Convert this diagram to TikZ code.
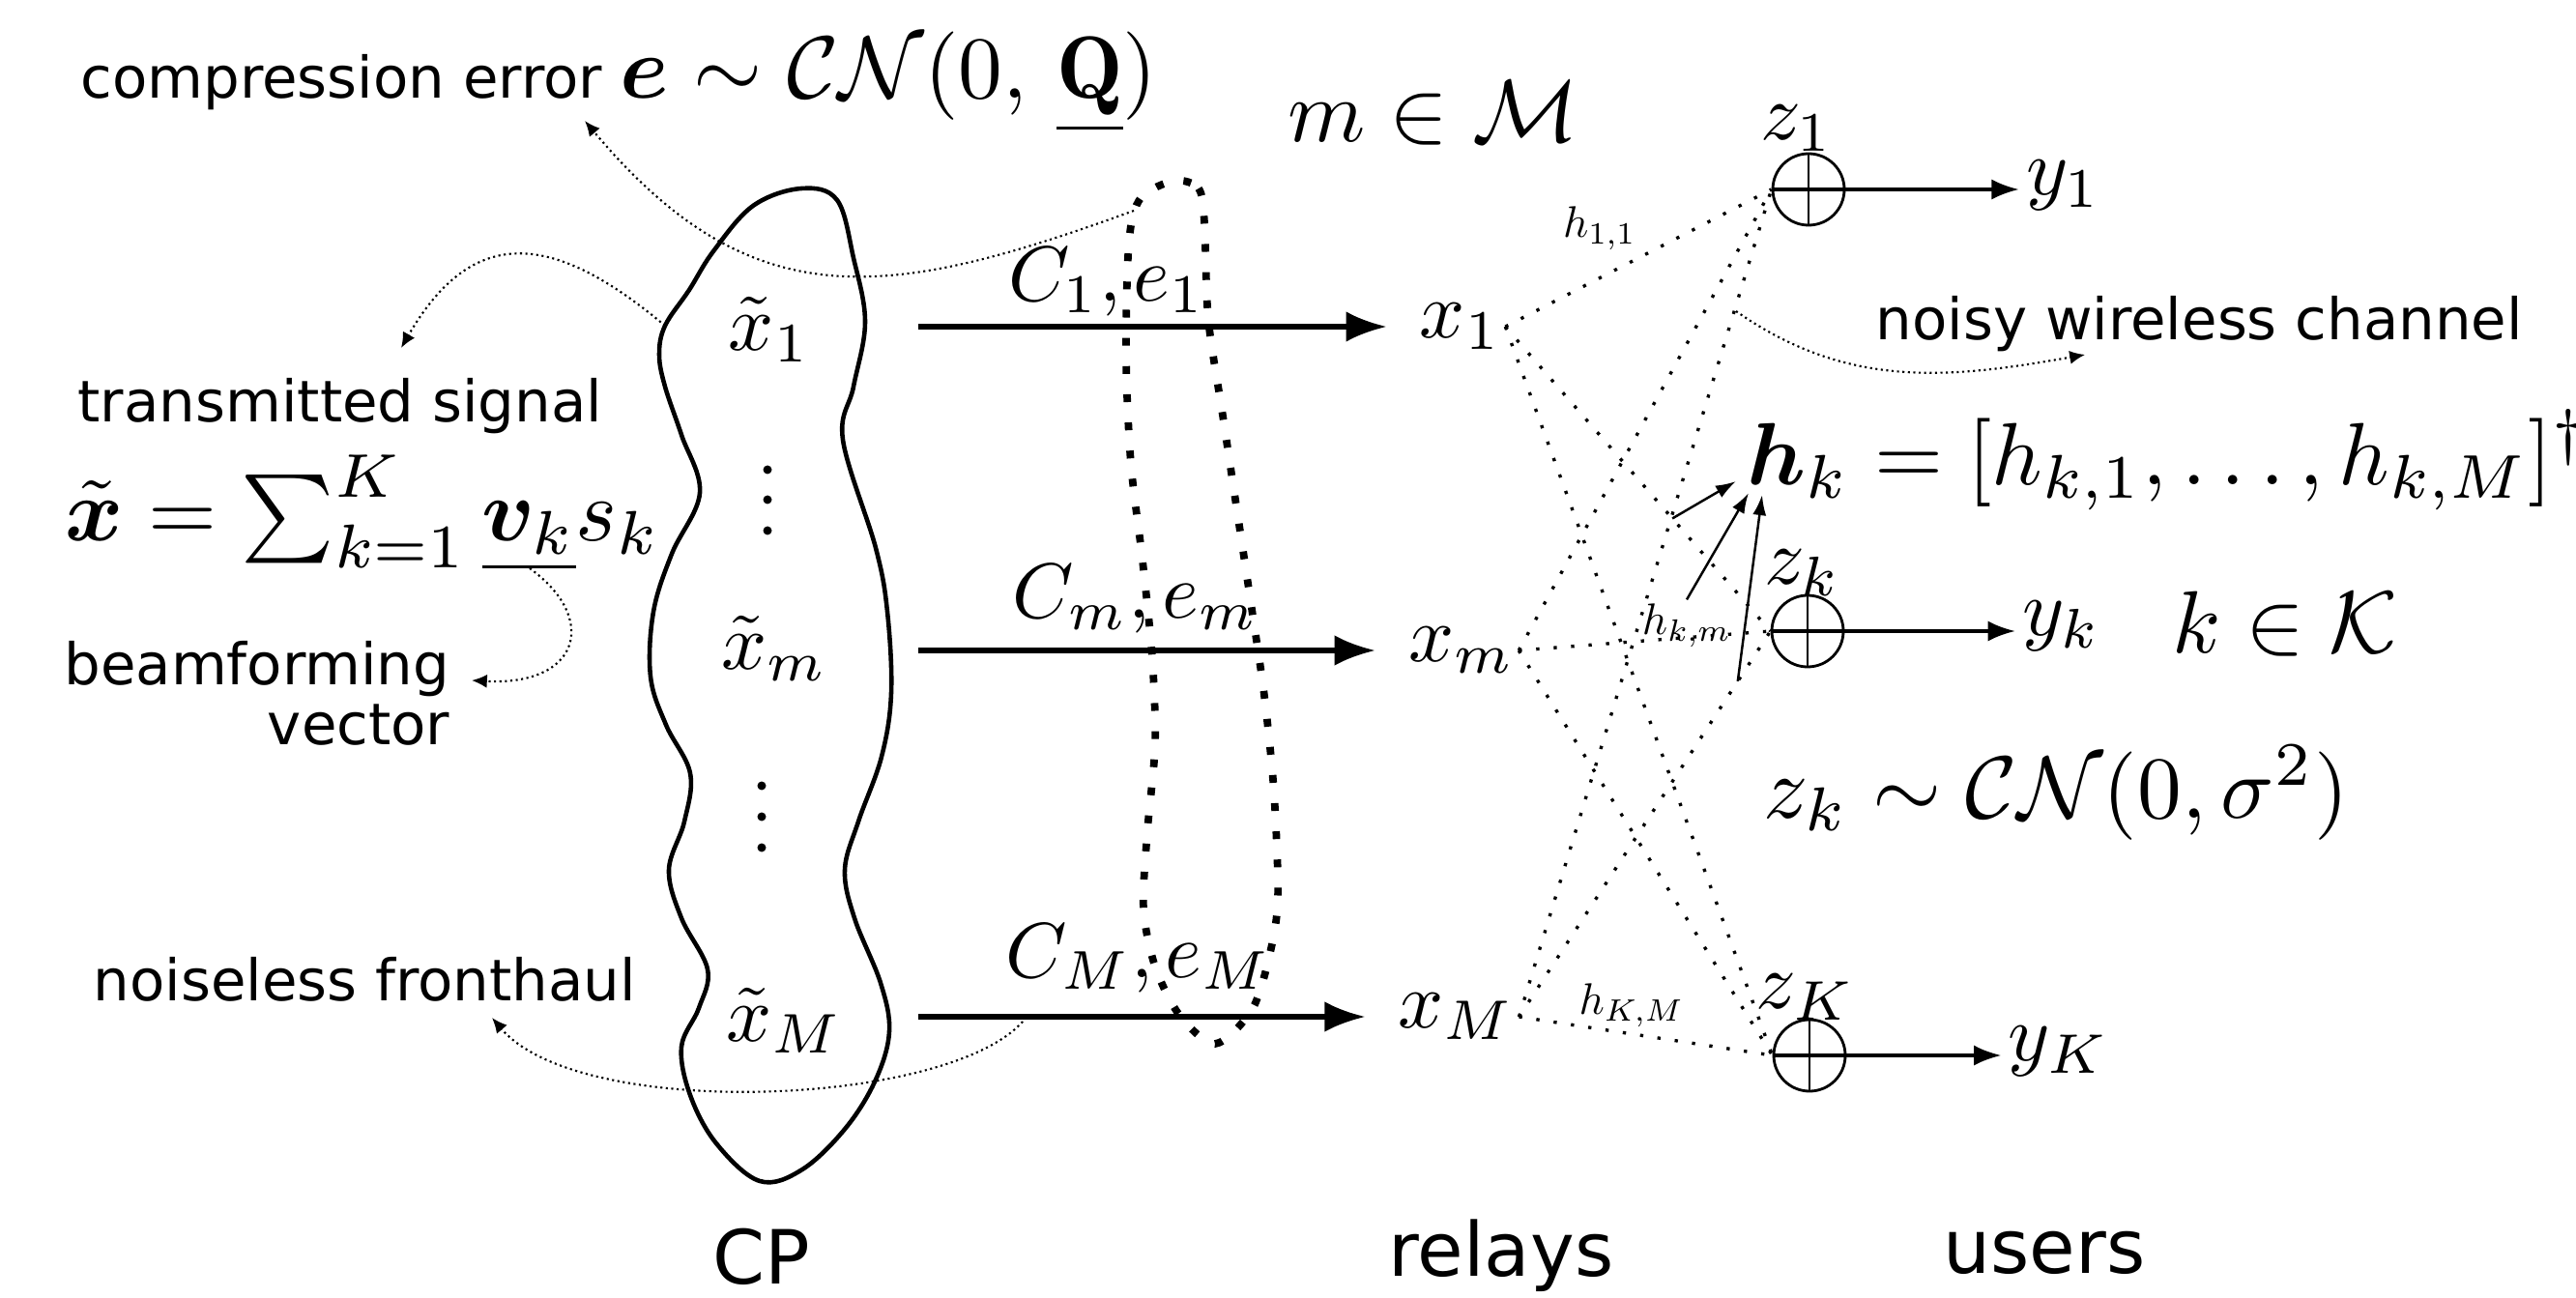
\documentclass[tikz,border=0pt]{standalone}
\usepackage{amsmath,bm,graphicx}
\usepackage{fontspec}
\newfontfamily\notefont{DejaVu Sans}
\usetikzlibrary{arrows.meta,calc}
\newcommand{\bigf}[1]{\scalebox{2.6}{\normalsize$#1$}}
\newcommand{\sigf}[1]{\scalebox{2.35}{\normalsize$#1$}}
\newcommand{\linkf}[1]{\scalebox{2.3}{\normalsize$#1$}}
\newcommand{\chanf}[1]{\scalebox{1.3}{\normalsize$#1$}}

\begin{document}
\begin{tikzpicture}[>=Latex,
  note/.style={font=\notefont\fontsize{16.9}{17.5}\selectfont,inner sep=0pt},
  tier/.style={font=\notefont\fontsize{22}{26}\selectfont,inner sep=0pt},
  relay/.style={inner sep=1pt},
  adder/.style={circle,draw,line width=0.8pt,minimum size=0.74cm,inner sep=0pt,
    path picture={\draw[line width=0.8pt]
      (path picture bounding box.north)--(path picture bounding box.south);}},
  fronthaul/.style={line width=1.5pt,-{Latex[length=12pt,width=9pt]},shorten >=0.3cm},
  output/.style={line width=0.9pt,-{Latex[length=8pt,width=6pt]}},
  bundle/.style={line width=2.2pt,dash pattern=on 2.3pt off 6pt},
  chan/.style={line width=0.95pt,dash pattern=on 0.95pt off 4.2pt},
  callout/.style={line width=0.6pt,densely dotted,-{Latex[length=4.5pt,width=4pt]}},
  pointer/.style={line width=0.7pt,-{Latex[length=6pt,width=4pt]}}]
  \useasboundingbox (0,0) rectangle (26.65,-13.43);

  \node[note,anchor=base west] (cerr) at (0.83,-1.02)
    {compression error \bigf{\bm{e}\sim\mathcal{C}\mathcal{N}(0,\,\underline{\mathbf{Q}})}};
  \node[anchor=base] (mset) at (14.83,-1.47) {\bigf{m\in\mathcal{M}}};
  \node[note,anchor=base west] (tsig) at (0.80,-4.37) {transmitted signal};
  \node[anchor=base west,inner sep=0pt] (xsum) at (0.67,-5.60)
    {\bigf{\tilde{\bm{x}}=\sum_{k=1}^{K}\underline{\bm{v}_k}s_k}};
  \node[note,anchor=north east,align=right] (beam) at (4.66,-6.63)
    {beamforming\\vector};
  \node[note,anchor=base west] (nfh) at (0.96,-10.35) {noiseless fronthaul};

  % central processor
  \draw[line width=1.3pt] plot[smooth cycle,tension=0.6] coordinates {
    (8.29,-1.95) (8.66,-2.07) (8.83,-2.67) (8.95,-3.33) (8.83,-4.00)
    (8.72,-4.55) (9.06,-5.67) (9.18,-6.33) (9.22,-7.17) (9.12,-7.83)
    (8.88,-8.50) (8.74,-9.00) (8.84,-9.50) (9.11,-10.17) (9.20,-10.67)
    (9.06,-11.17) (8.75,-11.67) (8.30,-12.10) (7.86,-12.22) (7.41,-11.83)
    (7.14,-11.33) (7.05,-10.83) (7.23,-10.43) (7.32,-10.03) (7.05,-9.50)
    (6.92,-9.00) (7.08,-8.50) (7.14,-8.00) (6.89,-7.50) (6.73,-7.00)
    (6.76,-6.33) (6.95,-5.73) (7.24,-5.10) (7.05,-4.50) (6.88,-4.00)
    (6.82,-3.67) (6.88,-3.37) (7.13,-3.00) (7.38,-2.60) (7.79,-2.13)};
  \node (xt1) at (7.96,-3.41) {\sigf{\tilde{x}_1}};
  \node (xtm) at (8.01,-6.71) {\sigf{\tilde{x}_m}};
  \node (xtM) at (8.12,-10.56) {\sigf{\tilde{x}_M}};
  \foreach \y in {4.86,5.17,5.49} \fill (7.94,-\y) circle (0.045);
  \foreach \y in {8.13,8.45,8.77} \fill (7.88,-\y) circle (0.045);

  % fronthaul links
  \coordinate (f1) at (9.5,-3.38);
  \coordinate (fm) at (9.5,-6.73);
  \coordinate (fM) at (9.5,-10.52);
  \node[relay] (x1) at (15.11,-3.38) {\sigf{x_1}};
  \node[relay] (xm) at (15.12,-6.73) {\sigf{x_m}};
  \node[relay] (xM) at (15.07,-10.52) {\sigf{x_M}};
  \draw[fronthaul] (f1) -- (x1);
  \draw[fronthaul] (fm) -- (xm);
  \draw[fronthaul] (fM) -- (xM);
  \node (c1) at (11.45,-2.92) {\linkf{C_1,e_1}};
  \node (cm) at (11.75,-6.20) {\linkf{C_m,e_m}};
  \node (cM) at (11.78,-9.92) {\linkf{C_M,e_M}};
  \draw[bundle] plot[smooth cycle] coordinates {
    (12.15,-1.87) (12.40,-1.95) (12.46,-2.3) (12.50,-3.3) (12.65,-4.3)
    (12.80,-5.3) (12.95,-6.3) (13.08,-7.2) (13.18,-8.2) (13.22,-9.3)
    (13.13,-9.9) (12.95,-10.45) (12.57,-10.80) (12.20,-10.50) (11.95,-10.0)
    (11.83,-9.4) (11.87,-8.6) (11.95,-7.7) (11.92,-6.8) (11.82,-5.8)
    (11.70,-4.8) (11.65,-3.7) (11.68,-2.5) (11.80,-2.05)};

  % users
  \node[adder] (a1) at (18.71,-1.96) {};
  \node[adder] (ak) at (18.70,-6.53) {};
  \node[adder] (aK) at (18.72,-10.92) {};
  \node[inner sep=1pt] (z1) at (18.59,-1.33) {\sigf{z_1}};
  \node[inner sep=1pt] (zk) at (18.65,-5.93) {\sigf{z_k}};
  \node[inner sep=1pt] (zK) at (18.68,-10.32) {\sigf{z_K}};
  \node[inner sep=2pt] (y1) at (21.35,-1.92) {\sigf{y_1}};
  \node[inner sep=2pt] (yk) at (21.33,-6.48) {\sigf{y_k}};
  \node[inner sep=2pt] (yK) at (21.30,-10.88) {\sigf{y_K}};
  \draw[output] (a1.west) -- (a1.west -| y1.west);
  \draw[output] (ak.west) -- (ak.west -| yk.west);
  \draw[output] (aK.west) -- (aK.west -| yK.west);

  % wireless channel
  \foreach \r in {x1,xm,xM}
    \foreach \u in {a1,ak,aK}
      \draw[chan] (\r.east) -- (\u.west);
  \node[inner sep=1pt] (h11) at (16.55,-2.36) {\chanf{h_{1,1}}};
  \node[inner sep=1pt] (hkm) at (17.45,-6.47) {\chanf{h_{k,m}}};
  \node[inner sep=1pt] (hKM) at (16.88,-10.40) {\chanf{h_{K,M}}};

  \node[anchor=base west,inner sep=0pt] (hvec) at (18.07,-5.02)
    {\bigf{\bm{h}_k=[h_{k,1},\ldots,h_{k,M}]^\dagger}};
  \node[anchor=base west,inner sep=0pt] (kset) at (22.47,-6.75)
    {\bigf{k\in\mathcal{K}}};
  \node[anchor=base west,inner sep=0pt] (zdist) at (18.24,-8.46)
    {\bigf{z_k\sim\mathcal{C}\mathcal{N}(0,\sigma^2)}};
  \node[note,anchor=base west] (noisy) at (19.40,-3.52) {noisy wireless channel};

  \coordinate (p1) at ($(x1.east)!0.63!(ak.west)$);
  \coordinate (p3) at ($(xM.east)!0.87!(ak.west)$);
  \coordinate (r1) at (17.96,-4.98);
  \coordinate (r2) at (18.09,-5.10);
  \coordinate (r3) at (18.23,-5.12);
  \draw[pointer] (p1) -- (r1);
  \draw[pointer] (hkm.north) -- (r2);
  \draw[pointer] (p3) -- (r3);

  % callouts
  \coordinate (q0) at (11.73,-2.18);
  \coordinate (q1) at (6.05,-1.25);
  \draw[callout] (q0) to[out=200,in=-50,looseness=1.2] (q1);
  \coordinate (t0) at (6.88,-3.37);
  \coordinate (t1) at (4.15,-3.60);
  \draw[callout] (t0) to[out=140,in=60,looseness=1.4] (t1);
  \coordinate (b0) at (5.48,-5.88);
  \coordinate (b1) at (4.88,-7.04);
  \draw[callout] (b0) .. controls (6.2,-6.4) and (6.0,-7.1) .. (b1);
  \coordinate (n0) at (10.58,-10.57);
  \coordinate (n1) at (5.09,-10.53);
  \draw[callout] (n0) .. controls (9.8,-11.45) and (6.0,-11.6) .. (n1);
  \coordinate (w0) at (17.96,-3.22);
  \coordinate (w1) at (21.57,-3.67);
  \draw[callout] (w0) to[out=-35,in=190] (w1);

  \node[tier,anchor=base] (cp) at (7.88,-13.28) {CP};
  \node[tier,anchor=base] (relays) at (15.53,-13.20) {relays};
  \node[tier,anchor=base] (users) at (21.15,-13.17) {users};
\end{tikzpicture}
\end{document}
